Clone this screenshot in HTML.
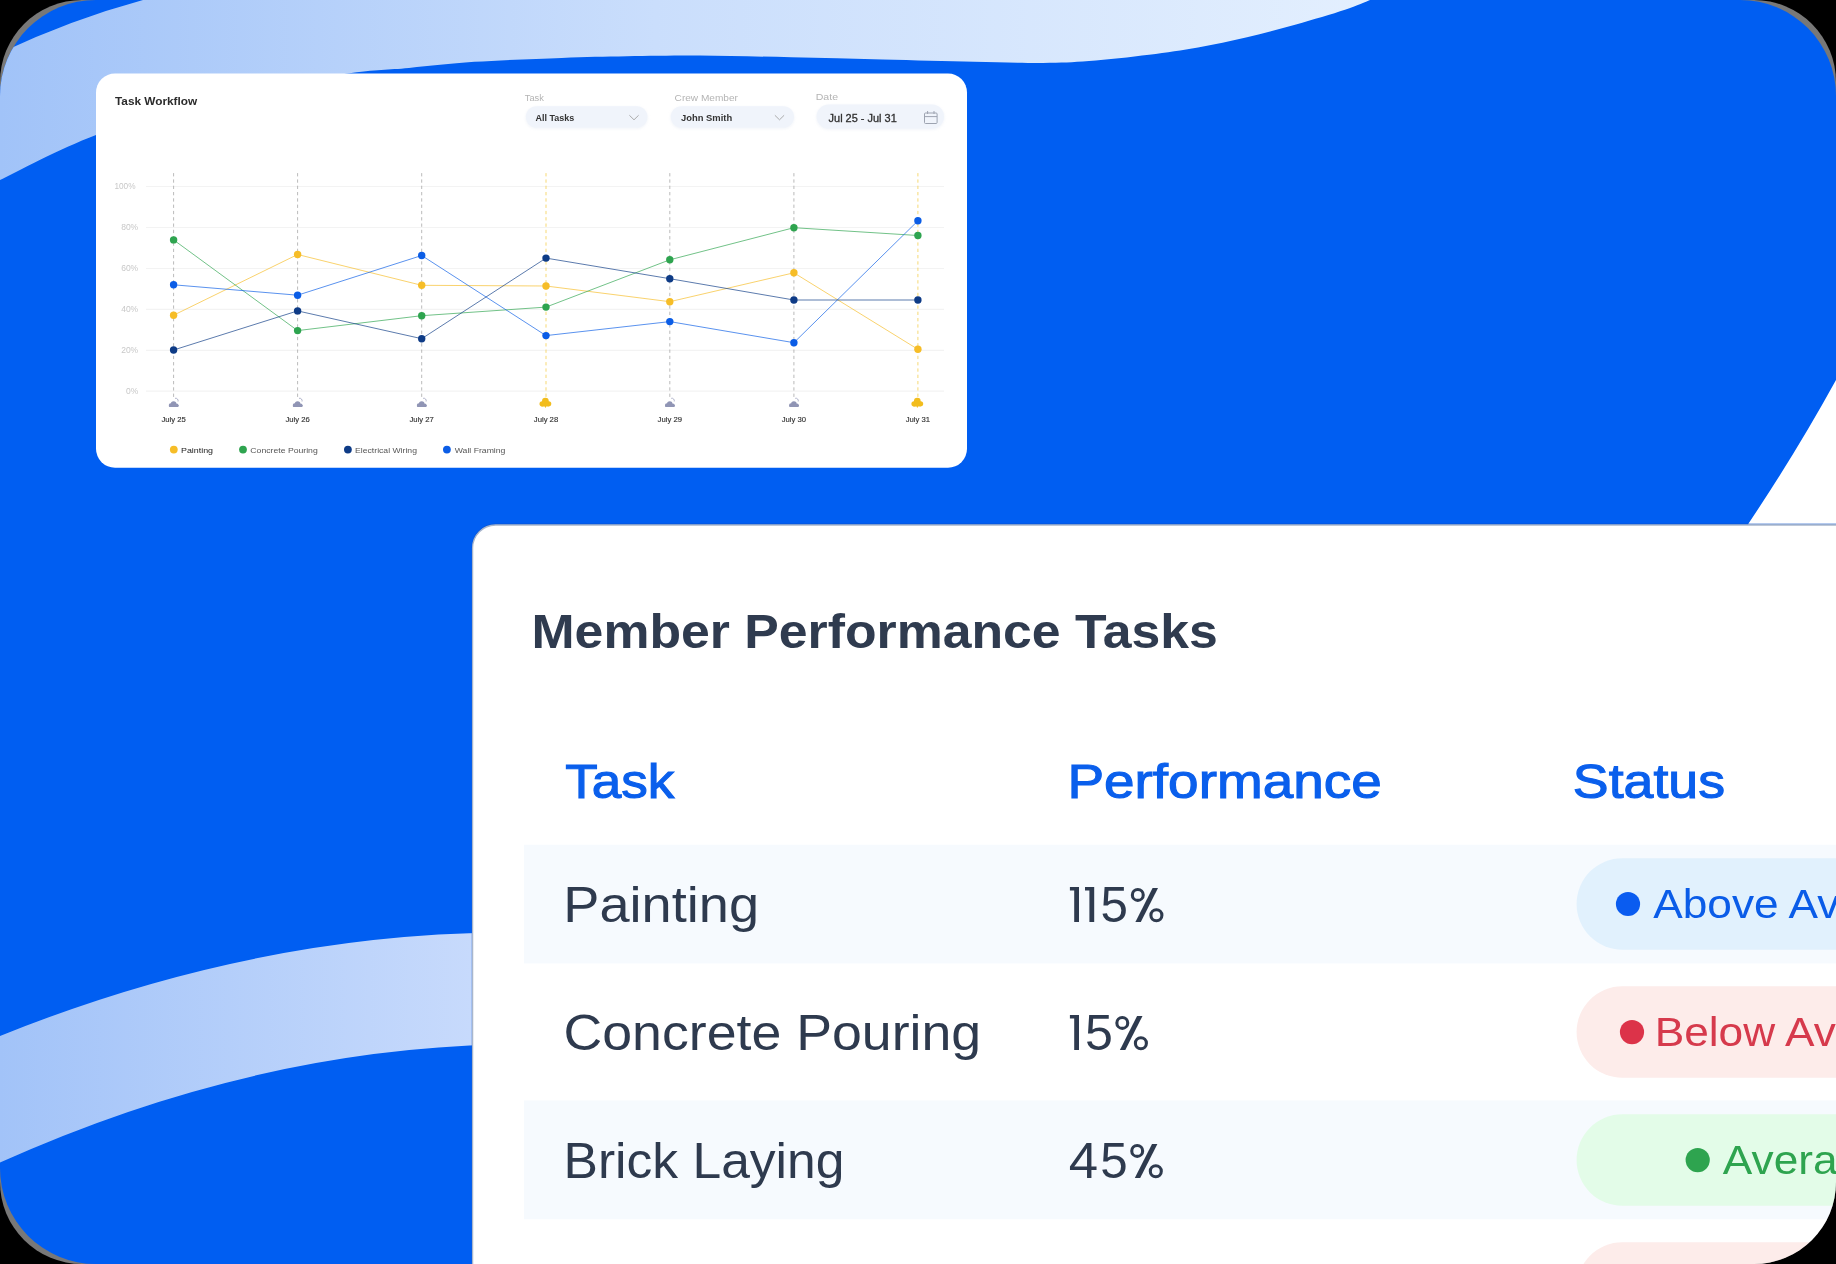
<!DOCTYPE html>
<html><head><meta charset="utf-8">
<style>
*{margin:0;padding:0}
html,body{width:1836px;height:1264px;background:#000;overflow:hidden}
.frame{position:absolute;left:0;top:0;width:1836px;height:1264px;overflow:hidden}
svg{display:block;font-family:"Liberation Sans",sans-serif;will-change:transform}
</style></head><body>
<div class="frame">
<svg width="1836" height="1264" viewBox="0 0 1836 1264">
<defs>
<linearGradient id="g1" x1="0" y1="0" x2="1370" y2="0" gradientUnits="userSpaceOnUse"><stop offset="0" stop-color="#a1c3f8"/><stop offset="0.478" stop-color="#cadefc"/><stop offset="1" stop-color="#e3effe"/></linearGradient>
<linearGradient id="g2" x1="0" y1="0" x2="472" y2="0" gradientUnits="userSpaceOnUse"><stop offset="0" stop-color="#a2c3f8"/><stop offset="1" stop-color="#c7dafc"/></linearGradient>
<filter id="sh" x="-20%" y="-50%" width="140%" height="200%"><feGaussianBlur stdDeviation="1.5"/></filter>
</defs>
<clipPath id="cOuter"><rect width="1836" height="1264" rx="82"/></clipPath>
<clipPath id="cInner"><rect width="1836" height="1264" rx="96"/></clipPath>
<g clip-path="url(#cOuter)">
<rect width="1836" height="1264" fill="#787878"/>
<g clip-path="url(#cInner)">
<rect width="1836" height="1264" fill="#005ef2"/>
<path d="M0,53 Q71.5,19.4 143,0 L1370,0 C1365.8,1.6 1357.3,5.7 1345.0,9.8 C1332.7,13.9 1312.3,19.9 1296.0,24.5 C1279.7,29.1 1263.3,33.5 1247.0,37.3 C1230.7,41.1 1214.3,44.5 1198.0,47.4 C1181.7,50.3 1167.2,52.4 1149.0,54.7 C1130.8,57.0 1106.7,59.6 1089.0,61.0 C1071.3,62.4 1062.1,62.8 1043.0,62.9 C1023.9,63.0 1001.2,62.3 974.5,61.7 C947.8,61.1 913.5,60.1 883.0,59.4 C852.5,58.6 822.0,57.8 791.5,57.2 C761.0,56.6 727.5,55.8 700.0,55.6 C672.5,55.5 649.9,55.9 626.8,56.3 C603.7,56.7 586.8,57.0 561.4,57.9 C536.0,58.8 499.7,60.1 474.3,61.8 C448.9,63.5 430.3,65.9 408.9,67.9 C387.5,69.9 377.3,69.0 345.8,73.8 C314.3,78.6 261.6,86.8 220.0,97.0 C178.4,107.2 132.7,121.2 96.0,135.0 C59.3,148.8 16.0,172.5 0.0,180.0 Z" fill="url(#g1)"/>
<path d="M0,1036 Q250,935 500,932.6 L500,1044.6 Q250,1050 0,1162.5 Z" fill="url(#g2)"/>
<path d="M1836,380 Q1796.6,451.7 1748.7,523.2 L1740,540 L1836,540 Z" fill="#fff"/>
<rect x="96" y="73.5" width="871" height="394.2" rx="19" fill="#fff"/>
<text x="114.98" y="105.2" font-size="11.4" fill="#2b2b2b" font-weight="700" textLength="82.28" lengthAdjust="spacingAndGlyphs" >Task Workflow</text>
<text x="524.79" y="101" font-size="8.5" fill="#b4b4b4" textLength="19.12" lengthAdjust="spacingAndGlyphs" >Task</text>
<text x="674.6" y="101" font-size="8.5" fill="#b4b4b4" textLength="63.37" lengthAdjust="spacingAndGlyphs" >Crew Member</text>
<text x="815.73" y="99.5" font-size="8.5" fill="#b4b4b4" textLength="22.35" lengthAdjust="spacingAndGlyphs" >Date</text>
<rect x="525.9" y="107.2" width="121.5" height="21.299999999999997" rx="10.649999999999999" fill="#dfe6f2" opacity="0.5" filter="url(#sh)"/>
<rect x="525.9" y="106.2" width="121.5" height="21.299999999999997" rx="10.649999999999999" fill="#f0f4fb"/>
<rect x="670.8" y="107.2" width="123.20000000000005" height="21.299999999999997" rx="10.649999999999999" fill="#dfe6f2" opacity="0.5" filter="url(#sh)"/>
<rect x="670.8" y="106.2" width="123.20000000000005" height="21.299999999999997" rx="10.649999999999999" fill="#f0f4fb"/>
<rect x="816.6" y="105.6" width="127.39999999999998" height="24.0" rx="12.0" fill="#dfe6f2" opacity="0.5" filter="url(#sh)"/>
<rect x="816.6" y="104.6" width="127.39999999999998" height="24.0" rx="12.0" fill="#f0f4fb"/>
<text x="535.48" y="121" font-size="8.8" fill="#333" font-weight="700" textLength="38.7" lengthAdjust="spacingAndGlyphs" >All Tasks</text>
<text x="681.06" y="121" font-size="8.8" fill="#333" font-weight="700" textLength="51.12" lengthAdjust="spacingAndGlyphs" >John Smith</text>
<text x="828.59" y="121.5" font-size="11" fill="#2f2f2f" textLength="68.19" lengthAdjust="spacingAndGlyphs"  stroke="#2f2f2f" stroke-width="0.3">Jul 25 - Jul 31</text>
<path d="M629.4,115.3 L634,119.8 L638.6,115.3" fill="none" stroke="#a3a3a3" stroke-width="0.9"/>
<path d="M774.9,115.3 L779.5,119.8 L784.1,115.3" fill="none" stroke="#a3a3a3" stroke-width="0.9"/>
<g fill="none" stroke="#9da3b0" stroke-width="1"><rect x="924.5" y="113" width="12.6" height="10.5" rx="1"/><line x1="924.5" y1="116.6" x2="937.1" y2="116.6"/><line x1="927.6" y1="111" x2="927.6" y2="114"/><line x1="934" y1="111" x2="934" y2="114"/></g>
<line x1="146" y1="186.5" x2="944" y2="186.5" stroke="#f3f3f3" stroke-width="1.2"/>
<text x="114.38" y="189.4" font-size="8.5" fill="#c8c8c8" textLength="21.11" lengthAdjust="spacingAndGlyphs" >100%</text>
<line x1="146" y1="227.5" x2="944" y2="227.5" stroke="#f3f3f3" stroke-width="1.2"/>
<text x="121.18" y="230.4" font-size="8.5" fill="#c8c8c8" textLength="17.01" lengthAdjust="spacingAndGlyphs" >80%</text>
<line x1="146" y1="268.5" x2="944" y2="268.5" stroke="#f3f3f3" stroke-width="1.2"/>
<text x="121.18" y="271.4" font-size="8.5" fill="#c8c8c8" textLength="17.01" lengthAdjust="spacingAndGlyphs" >60%</text>
<line x1="146" y1="309.4" x2="944" y2="309.4" stroke="#f3f3f3" stroke-width="1.2"/>
<text x="121.18" y="312.3" font-size="8.5" fill="#c8c8c8" textLength="17.01" lengthAdjust="spacingAndGlyphs" >40%</text>
<line x1="146" y1="350.3" x2="944" y2="350.3" stroke="#f3f3f3" stroke-width="1.2"/>
<text x="121.18" y="353.2" font-size="8.5" fill="#c8c8c8" textLength="17.01" lengthAdjust="spacingAndGlyphs" >20%</text>
<line x1="146" y1="391.2" x2="944" y2="391.2" stroke="#f3f3f3" stroke-width="1.2"/>
<text x="125.92" y="394.1" font-size="8.5" fill="#c8c8c8" textLength="12.29" lengthAdjust="spacingAndGlyphs" >0%</text>
<line x1="173.6" y1="173.1" x2="173.6" y2="397" stroke="#a8a8a8" stroke-width="0.8" stroke-dasharray="3.3 3"/>
<line x1="297.6" y1="173.1" x2="297.6" y2="397" stroke="#a8a8a8" stroke-width="0.8" stroke-dasharray="3.3 3"/>
<line x1="421.7" y1="173.1" x2="421.7" y2="397" stroke="#a8a8a8" stroke-width="0.8" stroke-dasharray="3.3 3"/>
<line x1="546.0" y1="173.1" x2="546.0" y2="397" stroke="#f5cf50" stroke-width="0.8" stroke-dasharray="3.3 3"/>
<line x1="669.8" y1="173.1" x2="669.8" y2="397" stroke="#a8a8a8" stroke-width="0.8" stroke-dasharray="3.3 3"/>
<line x1="793.9" y1="173.1" x2="793.9" y2="397" stroke="#a8a8a8" stroke-width="0.8" stroke-dasharray="3.3 3"/>
<line x1="917.9" y1="173.1" x2="917.9" y2="397" stroke="#f5cf50" stroke-width="0.8" stroke-dasharray="3.3 3"/>
<polyline points="173.6,315.2 297.6,254.5 421.7,285.3 546.0,286.0 669.8,301.7 793.9,272.8 917.9,349.3" fill="none" stroke="#f6bd27" stroke-width="0.85" stroke-opacity="0.8"/>
<polyline points="173.6,239.9 297.6,330.6 421.7,315.7 546.0,307.1 669.8,259.8 793.9,227.7 917.9,235.5" fill="none" stroke="#2ea44f" stroke-width="0.85" stroke-opacity="0.8"/>
<polyline points="173.6,350.0 297.6,310.9 421.7,338.7 546.0,258.1 669.8,278.7 793.9,300.0 917.9,300.0" fill="none" stroke="#0e3b86" stroke-width="0.85" stroke-opacity="0.8"/>
<polyline points="173.6,284.8 297.6,295.2 421.7,255.5 546.0,335.6 669.8,321.6 793.9,342.7 917.9,220.8" fill="none" stroke="#0b5de6" stroke-width="0.85" stroke-opacity="0.8"/>
<circle cx="173.6" cy="315.2" r="3.7" fill="#f6bd27"/>
<circle cx="297.6" cy="254.5" r="3.7" fill="#f6bd27"/>
<circle cx="421.7" cy="285.3" r="3.7" fill="#f6bd27"/>
<circle cx="546.0" cy="286.0" r="3.7" fill="#f6bd27"/>
<circle cx="669.8" cy="301.7" r="3.7" fill="#f6bd27"/>
<circle cx="793.9" cy="272.8" r="3.7" fill="#f6bd27"/>
<circle cx="917.9" cy="349.3" r="3.7" fill="#f6bd27"/>
<circle cx="173.6" cy="239.9" r="3.7" fill="#2ea44f"/>
<circle cx="297.6" cy="330.6" r="3.7" fill="#2ea44f"/>
<circle cx="421.7" cy="315.7" r="3.7" fill="#2ea44f"/>
<circle cx="546.0" cy="307.1" r="3.7" fill="#2ea44f"/>
<circle cx="669.8" cy="259.8" r="3.7" fill="#2ea44f"/>
<circle cx="793.9" cy="227.7" r="3.7" fill="#2ea44f"/>
<circle cx="917.9" cy="235.5" r="3.7" fill="#2ea44f"/>
<circle cx="173.6" cy="350.0" r="3.7" fill="#0e3b86"/>
<circle cx="297.6" cy="310.9" r="3.7" fill="#0e3b86"/>
<circle cx="421.7" cy="338.7" r="3.7" fill="#0e3b86"/>
<circle cx="546.0" cy="258.1" r="3.7" fill="#0e3b86"/>
<circle cx="669.8" cy="278.7" r="3.7" fill="#0e3b86"/>
<circle cx="793.9" cy="300.0" r="3.7" fill="#0e3b86"/>
<circle cx="917.9" cy="300.0" r="3.7" fill="#0e3b86"/>
<circle cx="173.6" cy="284.8" r="3.7" fill="#0b5de6"/>
<circle cx="297.6" cy="295.2" r="3.7" fill="#0b5de6"/>
<circle cx="421.7" cy="255.5" r="3.7" fill="#0b5de6"/>
<circle cx="546.0" cy="335.6" r="3.7" fill="#0b5de6"/>
<circle cx="669.8" cy="321.6" r="3.7" fill="#0b5de6"/>
<circle cx="793.9" cy="342.7" r="3.7" fill="#0b5de6"/>
<circle cx="917.9" cy="220.8" r="3.7" fill="#0b5de6"/>
<g transform="translate(173.6,404)" fill="#9095b5"><circle cx="-2.9" cy="1.1" r="1.9"/><circle cx="0" cy="0.1" r="2.8"/><circle cx="3.1" cy="1.2" r="1.8"/><rect x="-4.8" y="0.8" width="9.8" height="2.1" rx="1"/></g>
<path d="M175.0,398.3 a2.5,2.5 0 0 1 3.0,3.2" fill="none" stroke="#9095b5" stroke-width="0.7"/>
<text x="173.6" y="421.7" font-size="7.7" fill="#333" text-anchor="middle" stroke="#333" stroke-width="0.15">July 25</text>
<g transform="translate(297.6,404)" fill="#9095b5"><circle cx="-2.9" cy="1.1" r="1.9"/><circle cx="0" cy="0.1" r="2.8"/><circle cx="3.1" cy="1.2" r="1.8"/><rect x="-4.8" y="0.8" width="9.8" height="2.1" rx="1"/></g>
<path d="M299.0,398.3 a2.5,2.5 0 0 1 3.0,3.2" fill="none" stroke="#9095b5" stroke-width="0.7"/>
<text x="297.6" y="421.7" font-size="7.7" fill="#333" text-anchor="middle" stroke="#333" stroke-width="0.15">July 26</text>
<g transform="translate(421.7,404)" fill="#9095b5"><circle cx="-2.9" cy="1.1" r="1.9"/><circle cx="0" cy="0.1" r="2.8"/><circle cx="3.1" cy="1.2" r="1.8"/><rect x="-4.8" y="0.8" width="9.8" height="2.1" rx="1"/></g>
<path d="M423.1,398.3 a2.5,2.5 0 0 1 3.0,3.2" fill="none" stroke="#9095b5" stroke-width="0.7"/>
<text x="421.7" y="421.7" font-size="7.7" fill="#333" text-anchor="middle" stroke="#333" stroke-width="0.15">July 27</text>
<g transform="translate(545.4,402.5)" fill="#f2bd1d"><circle cx="-3.3" cy="1.3" r="2.6"/><circle cx="0" cy="-1.3" r="3.4"/><circle cx="3.4" cy="1.3" r="2.5"/><rect x="-4.5" y="0.8" width="9" height="3.2" rx="1.5"/><path d="M-0.7,3.5 L0.7,3.5 L0.3,5.2 L-0.3,5.2 Z"/></g>
<text x="546.0" y="421.7" font-size="7.7" fill="#333" text-anchor="middle" stroke="#333" stroke-width="0.15">July 28</text>
<g transform="translate(669.8,404)" fill="#9095b5"><circle cx="-2.9" cy="1.1" r="1.9"/><circle cx="0" cy="0.1" r="2.8"/><circle cx="3.1" cy="1.2" r="1.8"/><rect x="-4.8" y="0.8" width="9.8" height="2.1" rx="1"/></g>
<path d="M671.2,398.3 a2.5,2.5 0 0 1 3.0,3.2" fill="none" stroke="#9095b5" stroke-width="0.7"/>
<text x="669.8" y="421.7" font-size="7.7" fill="#333" text-anchor="middle" stroke="#333" stroke-width="0.15">July 29</text>
<g transform="translate(793.9,404)" fill="#9095b5"><circle cx="-2.9" cy="1.1" r="1.9"/><circle cx="0" cy="0.1" r="2.8"/><circle cx="3.1" cy="1.2" r="1.8"/><rect x="-4.8" y="0.8" width="9.8" height="2.1" rx="1"/></g>
<path d="M795.2,398.3 a2.5,2.5 0 0 1 3.0,3.2" fill="none" stroke="#9095b5" stroke-width="0.7"/>
<text x="793.9" y="421.7" font-size="7.7" fill="#333" text-anchor="middle" stroke="#333" stroke-width="0.15">July 30</text>
<g transform="translate(917.3,402.5)" fill="#f2bd1d"><circle cx="-3.3" cy="1.3" r="2.6"/><circle cx="0" cy="-1.3" r="3.4"/><circle cx="3.4" cy="1.3" r="2.5"/><rect x="-4.5" y="0.8" width="9" height="3.2" rx="1.5"/><path d="M-0.7,3.5 L0.7,3.5 L0.3,5.2 L-0.3,5.2 Z"/></g>
<text x="917.9" y="421.7" font-size="7.7" fill="#333" text-anchor="middle" stroke="#333" stroke-width="0.15">July 31</text>
<circle cx="173.8" cy="449.6" r="3.9" fill="#f6bd27"/>
<text x="180.97" y="452.5" font-size="7.6" fill="#222" textLength="32.1" lengthAdjust="spacingAndGlyphs" >Painting</text>
<circle cx="243" cy="449.6" r="3.9" fill="#2ea44f"/>
<text x="250.37" y="452.5" font-size="7.6" fill="#555" textLength="67.37" lengthAdjust="spacingAndGlyphs" >Concrete Pouring</text>
<circle cx="347.9" cy="449.6" r="3.9" fill="#0e3b86"/>
<text x="355.09" y="452.5" font-size="7.6" fill="#555" textLength="61.86" lengthAdjust="spacingAndGlyphs" >Electrical Wiring</text>
<circle cx="446.9" cy="449.6" r="3.9" fill="#0b5de6"/>
<text x="454.76" y="452.5" font-size="7.6" fill="#555" textLength="50.69" lengthAdjust="spacingAndGlyphs" >Wall Framing</text>
</g>
<rect x="472.5" y="524.3" width="1500" height="900" rx="23" fill="none" stroke="#0a52c8" stroke-opacity="0.6" stroke-width="1.6"/>
<rect x="472.6" y="525" width="1500" height="900" rx="23" fill="#fff" stroke="#a9b6cc" stroke-width="1.3"/>
<text x="531.51" y="647.7" font-size="49" fill="#2f3b4f" font-weight="700" textLength="686.39" lengthAdjust="spacingAndGlyphs" >Member Performance Tasks</text>
<text x="565.26" y="797.7" font-size="48.5" fill="#0a5fec" textLength="109.16" lengthAdjust="spacingAndGlyphs"  stroke="#0a5fec" stroke-width="1.1">Task</text>
<text x="1067.42" y="797.7" font-size="48.5" fill="#0a5fec" textLength="314.39" lengthAdjust="spacingAndGlyphs"  stroke="#0a5fec" stroke-width="1.1">Performance</text>
<text x="1572.83" y="797.7" font-size="48.5" fill="#0a5fec" textLength="152.2" lengthAdjust="spacingAndGlyphs"  stroke="#0a5fec" stroke-width="1.1">Status</text>
<rect x="524" y="844.8" width="1400" height="118.60000000000002" fill="#f6fafe"/>
<rect x="524" y="1100.5" width="1400" height="118.70000000000005" fill="#f6fafe"/>
<text x="563.33" y="921.9" font-size="49.2" fill="#2e3a4e" textLength="195.73" lengthAdjust="spacingAndGlyphs" >Painting</text>
<path d="M1069.9,886.9 H1079.0 V921.9 H1074.2 V890.6 H1069.9 Z" fill="#2e3a4e"/>
<path d="M1085.0,886.9 H1094.2 V921.9 H1089.4 V890.6 H1085.0 Z" fill="#2e3a4e"/>
<text x="1100.53" y="921.9" font-size="49.2" fill="#2e3a4e" textLength="27.4" lengthAdjust="spacingAndGlyphs" >5</text>
<g fill="none" stroke="#2e3a4e" stroke-width="3.1"><circle cx="1137.8" cy="894.9" r="5.45"/><circle cx="1156.4" cy="915.3" r="5.5"/></g>
<path d="M1152.6,887.9 L1158.0,887.9 L1140.8,921.9 L1135.4,921.9 Z" fill="#2e3a4e"/>
<text x="563.52" y="1049.9" font-size="49.2" fill="#2e3a4e" textLength="417.64" lengthAdjust="spacingAndGlyphs" >Concrete Pouring</text>
<path d="M1069.9,1014.9 H1079.0 V1049.9 H1074.2 V1018.6 H1069.9 Z" fill="#2e3a4e"/>
<text x="1085.0" y="1049.9" font-size="49.2" fill="#2e3a4e" textLength="27.87" lengthAdjust="spacingAndGlyphs" >5</text>
<g fill="none" stroke="#2e3a4e" stroke-width="3.1"><circle cx="1122.3" cy="1022.9" r="5.45"/><circle cx="1140.9" cy="1043.3" r="5.5"/></g>
<path d="M1137.1,1015.9 L1142.5,1015.9 L1125.3,1049.9 L1119.9,1049.9 Z" fill="#2e3a4e"/>
<text x="563.55" y="1177.9" font-size="49.2" fill="#2e3a4e" textLength="280.88" lengthAdjust="spacingAndGlyphs" >Brick Laying</text>
<text x="1068.71" y="1177.9" font-size="49.2" fill="#2e3a4e" textLength="29.3" lengthAdjust="spacingAndGlyphs" >4</text>
<text x="1100.23" y="1177.9" font-size="49.2" fill="#2e3a4e" textLength="27.4" lengthAdjust="spacingAndGlyphs" >5</text>
<g fill="none" stroke="#2e3a4e" stroke-width="3.1"><circle cx="1137.2" cy="1150.9" r="5.45"/><circle cx="1155.8" cy="1171.3" r="5.5"/></g>
<path d="M1152.0,1143.9 L1157.4,1143.9 L1140.2,1177.9 L1134.8,1177.9 Z" fill="#2e3a4e"/>
<rect x="1576.6" y="858.2" width="460" height="91.5" rx="45.75" fill="#e1f1fd"/>
<circle cx="1628" cy="904.0" r="12.1" fill="#0a5cf0"/>
<text x="1653.19" y="918.0" font-size="40.5" fill="#0a5ce8" textLength="299.2" lengthAdjust="spacingAndGlyphs" >Above Average</text>
<rect x="1576.6" y="986.3" width="460" height="91.5" rx="45.75" fill="#fdecea"/>
<circle cx="1632" cy="1032.1" r="12.1" fill="#dc3349"/>
<text x="1654.65" y="1046.1" font-size="40.5" fill="#d63a4c" textLength="294.26" lengthAdjust="spacingAndGlyphs" >Below Average</text>
<rect x="1576.6" y="1114.3" width="460" height="91.5" rx="45.75" fill="#e3fce8"/>
<circle cx="1697.7" cy="1160.1" r="12.1" fill="#2ea44f"/>
<text x="1722.89" y="1174.1" font-size="40.5" fill="#2ea44f" textLength="163.94" lengthAdjust="spacingAndGlyphs" >Average</text>
<rect x="1576.6" y="1242.3" width="460" height="91.5" rx="45.75" fill="#fdecea"/>
<circle cx="1632" cy="1288.1" r="12.1" fill="#dc3349"/>
<text x="1654.65" y="1302.1" font-size="40.5" fill="#d63a4c" textLength="294.26" lengthAdjust="spacingAndGlyphs" >Below Average</text>
</g>
</svg>
</div>
</body></html>
